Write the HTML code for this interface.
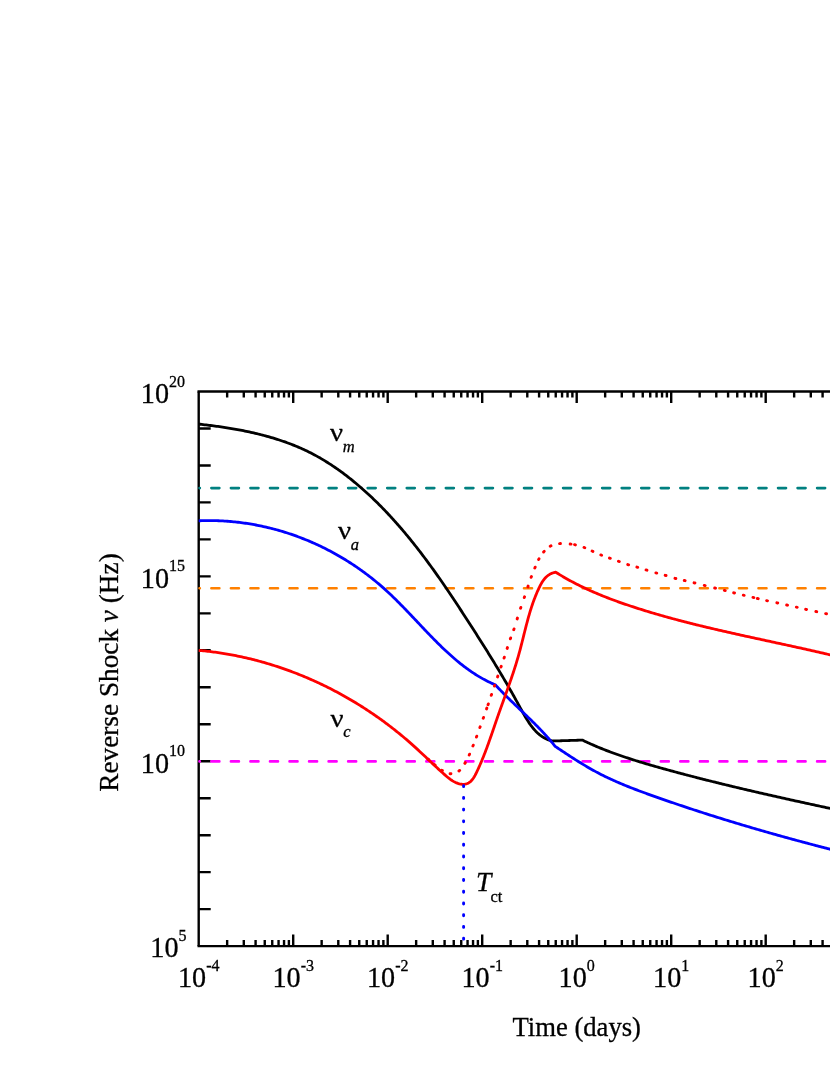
<!DOCTYPE html>
<html><head><meta charset="utf-8"><title>Reverse shock frequencies</title>
<style>html,body{margin:0;padding:0;background:#fff}svg{display:block;will-change:transform}</style>
</head><body>
<svg width="830" height="1075" viewBox="0 0 830 1075">
<rect width="830" height="1075" fill="#fff"/>
<g stroke="#000" stroke-width="2.40" fill="none" stroke-linecap="butt">
<path d="M197.50 391.50 H835.00"/>
<path d="M197.50 946.10 H835.00"/>
<path d="M198.70 391.50 V946.10"/>
<path d="M227.15 391.50v6.00M227.15 946.10v-6.00M243.79 391.50v6.00M243.79 946.10v-6.00M255.59 391.50v6.00M255.59 946.10v-6.00M264.75 391.50v6.00M264.75 946.10v-6.00M272.24 391.50v6.00M272.24 946.10v-6.00M278.56 391.50v6.00M278.56 946.10v-6.00M284.04 391.50v6.00M284.04 946.10v-6.00M288.88 391.50v6.00M288.88 946.10v-6.00M293.20 391.50v11.50M293.20 946.10v-11.50M321.65 391.50v6.00M321.65 946.10v-6.00M338.29 391.50v6.00M338.29 946.10v-6.00M350.09 391.50v6.00M350.09 946.10v-6.00M359.25 391.50v6.00M359.25 946.10v-6.00M366.74 391.50v6.00M366.74 946.10v-6.00M373.06 391.50v6.00M373.06 946.10v-6.00M378.54 391.50v6.00M378.54 946.10v-6.00M383.38 391.50v6.00M383.38 946.10v-6.00M387.70 391.50v11.50M387.70 946.10v-11.50M416.15 391.50v6.00M416.15 946.10v-6.00M432.79 391.50v6.00M432.79 946.10v-6.00M444.59 391.50v6.00M444.59 946.10v-6.00M453.75 391.50v6.00M453.75 946.10v-6.00M461.24 391.50v6.00M461.24 946.10v-6.00M467.56 391.50v6.00M467.56 946.10v-6.00M473.04 391.50v6.00M473.04 946.10v-6.00M477.88 391.50v6.00M477.88 946.10v-6.00M482.20 391.50v11.50M482.20 946.10v-11.50M510.65 391.50v6.00M510.65 946.10v-6.00M527.29 391.50v6.00M527.29 946.10v-6.00M539.09 391.50v6.00M539.09 946.10v-6.00M548.25 391.50v6.00M548.25 946.10v-6.00M555.74 391.50v6.00M555.74 946.10v-6.00M562.06 391.50v6.00M562.06 946.10v-6.00M567.54 391.50v6.00M567.54 946.10v-6.00M572.38 391.50v6.00M572.38 946.10v-6.00M576.70 391.50v11.50M576.70 946.10v-11.50M605.15 391.50v6.00M605.15 946.10v-6.00M621.79 391.50v6.00M621.79 946.10v-6.00M633.59 391.50v6.00M633.59 946.10v-6.00M642.75 391.50v6.00M642.75 946.10v-6.00M650.24 391.50v6.00M650.24 946.10v-6.00M656.56 391.50v6.00M656.56 946.10v-6.00M662.04 391.50v6.00M662.04 946.10v-6.00M666.88 391.50v6.00M666.88 946.10v-6.00M671.20 391.50v11.50M671.20 946.10v-11.50M699.65 391.50v6.00M699.65 946.10v-6.00M716.29 391.50v6.00M716.29 946.10v-6.00M728.09 391.50v6.00M728.09 946.10v-6.00M737.25 391.50v6.00M737.25 946.10v-6.00M744.74 391.50v6.00M744.74 946.10v-6.00M751.06 391.50v6.00M751.06 946.10v-6.00M756.54 391.50v6.00M756.54 946.10v-6.00M761.38 391.50v6.00M761.38 946.10v-6.00M765.70 391.50v11.50M765.70 946.10v-11.50M794.15 391.50v6.00M794.15 946.10v-6.00M810.79 391.50v6.00M810.79 946.10v-6.00M822.59 391.50v6.00M822.59 946.10v-6.00M831.75 391.50v6.00M831.75 946.10v-6.00"/>
<path d="M198.70 428.47h12.00M198.70 465.45h12.00M198.70 502.42h12.00M198.70 539.39h12.00M198.70 576.37h12.00M198.70 613.34h12.00M198.70 650.31h12.00M198.70 687.29h12.00M198.70 724.26h12.00M198.70 761.23h12.00M198.70 798.21h12.00M198.70 835.18h12.00M198.70 872.15h12.00M198.70 909.13h12.00"/>
</g>
<g fill="none" stroke-width="2.60" stroke-linecap="round" stroke-dasharray="8.00 11.54" stroke-dashoffset="7.67">
<path stroke="#008080" d="M199.50 488.10H835"/>
<path stroke="#ff8000" d="M199.50 588.30H835"/>
<path stroke="#ff00ff" d="M199.50 761.40H835"/>
</g>
<g fill="none" stroke-width="2.80" stroke-linejoin="round" stroke-linecap="butt">
<path stroke="#000000" d="M198.70 424.10 L200.18 424.26 L201.67 424.43 L203.15 424.60 L204.64 424.77 L206.13 424.94 L207.62 425.12 L209.11 425.31 L210.60 425.49 L212.09 425.68 L213.58 425.88 L215.07 426.08 L216.56 426.28 L218.06 426.48 L219.55 426.70 L221.04 426.91 L222.54 427.13 L224.03 427.36 L225.52 427.58 L227.02 427.82 L228.51 428.06 L230.00 428.30 L231.50 428.55 L232.99 428.80 L234.48 429.06 L235.97 429.33 L237.46 429.60 L238.95 429.87 L240.44 430.16 L241.93 430.44 L243.41 430.74 L244.90 431.03 L246.38 431.34 L247.87 431.65 L249.35 431.97 L250.83 432.29 L252.31 432.62 L253.78 432.96 L255.26 433.30 L256.73 433.65 L258.20 434.01 L259.67 434.37 L261.14 434.74 L262.60 435.12 L264.07 435.50 L265.53 435.89 L266.99 436.29 L268.44 436.70 L269.89 437.11 L271.35 437.54 L272.79 437.96 L274.24 438.40 L275.68 438.85 L277.12 439.30 L278.56 439.76 L279.99 440.23 L281.42 440.71 L282.85 441.20 L284.27 441.69 L285.69 442.19 L287.10 442.71 L288.52 443.23 L289.92 443.76 L291.33 444.30 L292.73 444.84 L294.13 445.40 L295.52 445.97 L296.91 446.54 L298.29 447.13 L299.67 447.72 L301.05 448.33 L302.42 448.94 L303.79 449.57 L305.15 450.20 L306.51 450.84 L307.86 451.50 L309.21 452.16 L310.55 452.84 L311.89 453.52 L313.22 454.22 L314.55 454.92 L315.87 455.64 L317.19 456.36 L318.50 457.10 L319.80 457.84 L321.11 458.59 L322.40 459.36 L323.70 460.13 L324.98 460.91 L326.26 461.70 L327.54 462.50 L328.81 463.31 L330.08 464.13 L331.34 464.95 L332.60 465.79 L333.85 466.63 L335.10 467.48 L336.34 468.33 L337.58 469.20 L338.81 470.07 L340.04 470.95 L341.26 471.84 L342.48 472.74 L343.69 473.64 L344.90 474.55 L346.11 475.46 L347.30 476.39 L348.50 477.31 L349.69 478.25 L350.87 479.19 L352.05 480.14 L353.22 481.09 L354.39 482.05 L355.56 483.02 L356.72 483.99 L357.87 484.97 L359.02 485.95 L360.17 486.94 L361.31 487.93 L362.45 488.93 L363.58 489.93 L364.70 490.93 L365.83 491.95 L366.94 492.96 L368.06 493.98 L369.16 495.01 L370.27 496.04 L371.37 497.07 L372.46 498.11 L373.55 499.15 L374.64 500.20 L375.72 501.25 L376.79 502.30 L377.87 503.36 L378.93 504.42 L380.00 505.49 L381.06 506.56 L382.11 507.64 L383.16 508.72 L384.21 509.80 L385.25 510.89 L386.29 511.98 L387.33 513.07 L388.36 514.17 L389.39 515.27 L390.41 516.37 L391.43 517.48 L392.44 518.60 L393.45 519.71 L394.46 520.83 L395.47 521.95 L396.47 523.08 L397.46 524.21 L398.46 525.34 L399.45 526.48 L400.43 527.62 L401.41 528.76 L402.39 529.90 L403.37 531.05 L404.34 532.20 L405.31 533.36 L406.27 534.52 L407.24 535.68 L408.19 536.84 L409.15 538.01 L410.10 539.18 L411.05 540.35 L412.00 541.52 L412.94 542.70 L413.88 543.88 L414.81 545.06 L415.75 546.25 L416.68 547.43 L417.61 548.62 L418.53 549.82 L419.45 551.01 L420.37 552.21 L421.29 553.41 L422.20 554.61 L423.11 555.81 L424.02 557.02 L424.92 558.23 L425.83 559.44 L426.73 560.65 L427.63 561.86 L428.52 563.08 L429.41 564.30 L430.30 565.52 L431.19 566.74 L432.08 567.97 L432.96 569.19 L433.84 570.42 L434.72 571.65 L435.59 572.88 L436.47 574.11 L437.34 575.35 L438.21 576.58 L439.08 577.82 L439.94 579.06 L440.80 580.30 L441.67 581.54 L442.53 582.78 L443.38 584.02 L444.24 585.27 L445.09 586.51 L445.94 587.76 L446.79 589.01 L447.64 590.26 L448.49 591.51 L449.33 592.76 L450.18 594.02 L451.02 595.27 L451.86 596.52 L452.70 597.78 L453.53 599.03 L454.37 600.29 L455.20 601.55 L456.04 602.81 L456.87 604.07 L457.70 605.32 L458.53 606.58 L459.35 607.85 L460.18 609.11 L461.00 610.37 L461.83 611.63 L462.65 612.89 L463.47 614.15 L464.29 615.42 L465.11 616.68 L465.93 617.94 L466.75 619.20 L467.56 620.47 L468.38 621.73 L469.19 622.99 L470.01 624.26 L470.82 625.52 L471.63 626.78 L472.45 628.05 L473.26 629.31 L474.07 630.57 L474.87 631.84 L475.68 633.10 L476.49 634.36 L477.30 635.63 L478.10 636.89 L478.91 638.16 L479.71 639.42 L480.51 640.69 L481.31 641.95 L482.12 643.22 L482.92 644.49 L483.71 645.76 L484.51 647.03 L485.31 648.30 L486.10 649.57 L486.90 650.84 L487.69 652.11 L488.48 653.39 L489.28 654.66 L490.07 655.94 L490.85 657.21 L491.64 658.49 L492.43 659.77 L493.21 661.05 L494.00 662.33 L494.78 663.62 L495.56 664.90 L496.34 666.19 L497.12 667.48 L497.90 668.76 L498.68 670.06 L499.45 671.35 L500.23 672.64 L501.00 673.94 L501.77 675.24 L502.54 676.54 L503.31 677.84 L504.08 679.14 L504.84 680.45 L505.61 681.76 L506.37 683.07 L507.13 684.38 L507.89 685.69 L508.65 687.01 L509.41 688.33 L510.16 689.65 L510.92 690.97 L511.67 692.30 L512.42 693.63 L513.17 694.96 L513.92 696.29 L514.67 697.63 L515.41 698.97 L516.15 700.31 L516.90 701.65 L517.64 703.00 L518.37 704.35 L519.11 705.70 L519.85 707.06 L520.58 708.41 L521.32 709.77 L522.06 711.12 L522.81 712.47 L523.56 713.81 L524.32 715.14 L525.09 716.46 L525.86 717.77 L526.65 719.07 L527.46 720.35 L528.27 721.61 L529.11 722.86 L529.96 724.08 L530.83 725.29 L531.72 726.47 L532.63 727.62 L533.56 728.75 L534.52 729.84 L535.50 730.91 L536.52 731.94 L537.56 732.94 L538.63 733.91 L539.73 734.83 L540.86 735.71 L542.03 736.55 L543.24 737.33 L544.50 738.06 L545.79 738.73 L547.13 739.33 L548.52 739.86 L549.96 740.32 L551.45 740.70 L553.00 741.00 L554.63 740.95 L556.27 740.90 L557.90 740.85 L559.53 740.80 L561.17 740.75 L562.80 740.70 L564.43 740.65 L566.07 740.60 L567.70 740.55 L569.33 740.50 L570.97 740.45 L572.60 740.40 L574.23 740.35 L575.87 740.30 L577.50 740.25 L579.13 740.20 L580.77 740.15 L582.40 740.10 L583.77 740.76 L585.14 741.41 L586.52 742.05 L587.90 742.68 L589.28 743.31 L590.66 743.93 L592.05 744.55 L593.44 745.15 L594.83 745.75 L596.23 746.35 L597.62 746.93 L599.02 747.52 L600.42 748.09 L601.83 748.66 L603.23 749.22 L604.64 749.78 L606.05 750.33 L607.47 750.87 L608.88 751.41 L610.30 751.94 L611.72 752.47 L613.14 753.00 L614.56 753.51 L615.98 754.03 L617.41 754.53 L618.84 755.04 L620.27 755.53 L621.70 756.03 L623.13 756.51 L624.57 757.00 L626.00 757.48 L627.44 757.95 L628.88 758.43 L630.32 758.89 L631.77 759.36 L633.21 759.82 L634.65 760.27 L636.10 760.73 L637.55 761.18 L639.00 761.62 L640.45 762.06 L641.90 762.50 L643.35 762.94 L644.80 763.37 L646.25 763.80 L647.71 764.23 L649.17 764.66 L650.62 765.08 L652.08 765.50 L653.54 765.92 L655.00 766.34 L656.45 766.75 L657.91 767.16 L659.38 767.57 L660.84 767.98 L662.30 768.39 L663.76 768.79 L665.22 769.20 L666.69 769.60 L668.15 770.00 L669.61 770.40 L671.08 770.80 L672.54 771.20 L674.00 771.60 L675.47 771.99 L676.94 772.39 L678.40 772.78 L679.87 773.17 L681.33 773.56 L682.80 773.95 L684.27 774.34 L685.73 774.73 L687.20 775.11 L688.67 775.50 L690.14 775.88 L691.61 776.26 L693.08 776.64 L694.54 777.02 L696.01 777.40 L697.48 777.78 L698.95 778.16 L700.42 778.53 L701.89 778.91 L703.37 779.28 L704.84 779.65 L706.31 780.02 L707.78 780.39 L709.25 780.76 L710.72 781.13 L712.20 781.50 L713.67 781.87 L715.14 782.23 L716.62 782.60 L718.09 782.96 L719.56 783.32 L721.04 783.68 L722.51 784.04 L723.99 784.40 L725.46 784.76 L726.94 785.12 L728.41 785.48 L729.89 785.83 L731.36 786.19 L732.84 786.54 L734.31 786.90 L735.79 787.25 L737.27 787.60 L738.74 787.95 L740.22 788.30 L741.70 788.65 L743.17 789.00 L744.65 789.35 L746.13 789.69 L747.61 790.04 L749.08 790.38 L750.56 790.73 L752.04 791.07 L753.52 791.42 L755.00 791.76 L756.48 792.10 L757.95 792.44 L759.43 792.78 L760.91 793.12 L762.39 793.46 L763.87 793.80 L765.35 794.14 L766.83 794.47 L768.31 794.81 L769.79 795.14 L771.27 795.48 L772.75 795.81 L774.23 796.15 L775.71 796.48 L777.19 796.81 L778.67 797.15 L780.15 797.48 L781.63 797.81 L783.11 798.14 L784.59 798.47 L786.07 798.80 L787.55 799.13 L789.04 799.45 L790.52 799.78 L792.00 800.11 L793.48 800.44 L794.96 800.76 L796.44 801.09 L797.92 801.41 L799.40 801.74 L800.89 802.06 L802.37 802.39 L803.85 802.71 L805.33 803.04 L806.81 803.36 L808.29 803.68 L809.78 804.00 L811.26 804.33 L812.74 804.65 L814.22 804.97 L815.70 805.29 L817.18 805.61 L818.67 805.93 L820.15 806.25 L821.63 806.57 L823.11 806.89 L824.59 807.21 L826.07 807.53 L827.56 807.85 L829.04 808.16 L830.52 808.48 L832.00 808.80"/>
<path stroke="#0000ff" d="M198.70 520.80 L200.22 520.74 L201.74 520.69 L203.26 520.65 L204.78 520.61 L206.30 520.59 L207.82 520.58 L209.34 520.57 L210.86 520.58 L212.38 520.59 L213.89 520.62 L215.41 520.65 L216.93 520.69 L218.44 520.74 L219.95 520.80 L221.47 520.87 L222.98 520.95 L224.49 521.04 L226.00 521.14 L227.51 521.25 L229.02 521.36 L230.53 521.49 L232.03 521.62 L233.54 521.77 L235.04 521.92 L236.54 522.08 L238.05 522.25 L239.55 522.43 L241.04 522.62 L242.54 522.82 L244.04 523.03 L245.53 523.24 L247.02 523.47 L248.52 523.70 L250.00 523.94 L251.49 524.19 L252.98 524.45 L254.46 524.72 L255.95 525.00 L257.43 525.28 L258.91 525.58 L260.38 525.88 L261.86 526.19 L263.33 526.51 L264.80 526.84 L266.27 527.18 L267.74 527.52 L269.21 527.88 L270.67 528.24 L272.13 528.61 L273.59 528.99 L275.05 529.38 L276.50 529.77 L277.95 530.18 L279.40 530.59 L280.85 531.01 L282.29 531.44 L283.73 531.88 L285.17 532.33 L286.61 532.78 L288.05 533.25 L289.48 533.72 L290.91 534.20 L292.33 534.68 L293.76 535.18 L295.18 535.68 L296.59 536.19 L298.01 536.71 L299.42 537.24 L300.83 537.78 L302.24 538.32 L303.64 538.87 L305.04 539.43 L306.44 540.00 L307.83 540.58 L309.22 541.16 L310.61 541.75 L311.99 542.35 L313.37 542.96 L314.75 543.57 L316.12 544.19 L317.49 544.82 L318.86 545.46 L320.22 546.10 L321.58 546.76 L322.94 547.42 L324.29 548.09 L325.64 548.76 L326.98 549.45 L328.32 550.14 L329.66 550.84 L330.99 551.54 L332.32 552.25 L333.65 552.98 L334.97 553.70 L336.29 554.44 L337.60 555.18 L338.91 555.93 L340.22 556.69 L341.52 557.45 L342.82 558.23 L344.11 559.01 L345.40 559.79 L346.68 560.59 L347.96 561.39 L349.24 562.20 L350.51 563.01 L351.78 563.83 L353.04 564.66 L354.30 565.50 L355.55 566.35 L356.80 567.20 L358.04 568.05 L359.28 568.92 L360.52 569.79 L361.75 570.67 L362.97 571.55 L364.19 572.45 L365.40 573.35 L366.61 574.25 L367.82 575.17 L369.02 576.09 L370.21 577.01 L371.40 577.95 L372.59 578.89 L373.77 579.83 L374.94 580.79 L376.11 581.75 L377.28 582.71 L378.43 583.69 L379.59 584.67 L380.74 585.65 L381.88 586.65 L383.01 587.65 L384.15 588.65 L385.27 589.66 L386.39 590.68 L387.51 591.71 L388.62 592.74 L389.72 593.77 L390.82 594.81 L391.92 595.86 L393.01 596.91 L394.10 597.97 L395.19 599.03 L396.27 600.09 L397.34 601.16 L398.42 602.23 L399.49 603.31 L400.56 604.39 L401.62 605.47 L402.68 606.55 L403.74 607.64 L404.80 608.73 L405.85 609.83 L406.91 610.92 L407.96 612.02 L409.01 613.12 L410.05 614.22 L411.10 615.32 L412.14 616.42 L413.19 617.53 L414.23 618.63 L415.27 619.74 L416.32 620.84 L417.36 621.95 L418.40 623.05 L419.44 624.16 L420.48 625.26 L421.52 626.36 L422.57 627.47 L423.61 628.57 L424.65 629.67 L425.70 630.76 L426.74 631.86 L427.79 632.95 L428.84 634.05 L429.89 635.14 L430.94 636.22 L432.00 637.31 L433.05 638.39 L434.11 639.46 L435.17 640.54 L436.24 641.61 L437.31 642.67 L438.38 643.74 L439.45 644.79 L440.53 645.85 L441.61 646.90 L442.69 647.94 L443.78 648.98 L444.87 650.01 L445.97 651.04 L447.07 652.06 L448.17 653.07 L449.28 654.08 L450.40 655.08 L451.52 656.08 L452.64 657.07 L453.77 658.05 L454.91 659.03 L456.05 659.99 L457.20 660.95 L458.35 661.90 L459.51 662.85 L460.68 663.78 L461.85 664.71 L463.04 665.63 L464.22 666.54 L465.42 667.43 L466.62 668.32 L467.83 669.21 L469.04 670.08 L470.27 670.94 L471.50 671.79 L472.74 672.62 L473.99 673.45 L475.25 674.27 L476.51 675.07 L477.79 675.86 L479.08 676.63 L480.37 677.40 L481.68 678.15 L482.99 678.88 L484.31 679.60 L485.65 680.31 L486.99 681.00 L488.35 681.68 L489.72 682.33 L491.10 682.98 L492.49 683.60 L493.89 684.21 L495.30 684.80 L496.34 685.93 L497.39 687.05 L498.45 688.16 L499.50 689.27 L500.57 690.37 L501.64 691.47 L502.71 692.57 L503.79 693.66 L504.87 694.75 L505.95 695.83 L507.04 696.91 L508.13 697.99 L509.23 699.06 L510.32 700.13 L511.42 701.20 L512.52 702.27 L513.62 703.33 L514.73 704.39 L515.83 705.46 L516.94 706.52 L518.04 707.58 L519.15 708.64 L520.26 709.70 L521.36 710.76 L522.47 711.82 L523.58 712.88 L524.68 713.94 L525.78 715.00 L526.88 716.06 L527.98 717.13 L529.08 718.20 L530.18 719.27 L531.27 720.34 L532.36 721.41 L533.45 722.49 L534.53 723.57 L535.61 724.66 L536.69 725.75 L537.76 726.84 L538.83 727.94 L539.89 729.04 L540.95 730.15 L542.01 731.26 L543.05 732.37 L544.09 733.50 L545.13 734.63 L546.16 735.76 L547.18 736.90 L548.20 738.05 L549.21 739.21 L550.21 740.37 L551.20 741.54 L552.19 742.72 L553.17 743.90 L554.14 745.10 L555.10 746.30 L556.35 747.14 L557.61 747.99 L558.86 748.83 L560.12 749.67 L561.38 750.51 L562.64 751.35 L563.90 752.18 L565.16 753.02 L566.42 753.85 L567.69 754.68 L568.95 755.51 L570.22 756.34 L571.49 757.16 L572.76 757.98 L574.04 758.79 L575.31 759.60 L576.59 760.41 L577.87 761.21 L579.15 762.01 L580.44 762.80 L581.73 763.59 L583.02 764.37 L584.31 765.15 L585.61 765.92 L586.91 766.69 L588.21 767.45 L589.52 768.20 L590.83 768.95 L592.14 769.69 L593.46 770.42 L594.78 771.14 L596.10 771.86 L597.43 772.56 L598.76 773.26 L600.10 773.96 L601.44 774.64 L602.78 775.32 L604.13 775.98 L605.48 776.65 L606.83 777.30 L608.19 777.94 L609.55 778.58 L610.91 779.22 L612.28 779.84 L613.65 780.46 L615.03 781.07 L616.40 781.68 L617.78 782.28 L619.16 782.88 L620.55 783.47 L621.93 784.05 L623.32 784.63 L624.71 785.20 L626.11 785.77 L627.50 786.33 L628.90 786.89 L630.30 787.45 L631.71 788.00 L633.11 788.54 L634.52 789.09 L635.92 789.63 L637.33 790.16 L638.74 790.69 L640.16 791.22 L641.57 791.74 L642.98 792.27 L644.40 792.79 L645.82 793.30 L647.24 793.82 L648.66 794.33 L650.08 794.84 L651.50 795.35 L652.92 795.85 L654.34 796.36 L655.76 796.86 L657.19 797.36 L658.61 797.86 L660.03 798.36 L661.46 798.86 L662.88 799.36 L664.31 799.85 L665.73 800.35 L667.16 800.84 L668.59 801.33 L670.01 801.82 L671.44 802.31 L672.87 802.80 L674.30 803.28 L675.72 803.77 L677.15 804.25 L678.58 804.74 L680.01 805.22 L681.44 805.70 L682.87 806.18 L684.31 806.65 L685.74 807.13 L687.17 807.61 L688.60 808.08 L690.03 808.55 L691.47 809.02 L692.90 809.50 L694.33 809.96 L695.77 810.43 L697.20 810.90 L698.64 811.37 L700.07 811.83 L701.51 812.29 L702.95 812.76 L704.38 813.22 L705.82 813.68 L707.26 814.14 L708.69 814.59 L710.13 815.05 L711.57 815.51 L713.01 815.96 L714.45 816.41 L715.89 816.86 L717.33 817.32 L718.77 817.76 L720.21 818.21 L721.65 818.66 L723.09 819.11 L724.53 819.55 L725.97 820.00 L727.42 820.44 L728.86 820.88 L730.30 821.32 L731.74 821.76 L733.19 822.20 L734.63 822.64 L736.08 823.07 L737.52 823.51 L738.97 823.94 L740.41 824.38 L741.86 824.81 L743.30 825.24 L744.75 825.67 L746.20 826.10 L747.64 826.53 L749.09 826.95 L750.54 827.38 L751.98 827.80 L753.43 828.23 L754.88 828.65 L756.33 829.07 L757.78 829.49 L759.23 829.91 L760.68 830.33 L762.13 830.75 L763.58 831.17 L765.03 831.58 L766.48 832.00 L767.93 832.41 L769.38 832.82 L770.83 833.24 L772.28 833.65 L773.73 834.06 L775.19 834.47 L776.64 834.87 L778.09 835.28 L779.54 835.69 L781.00 836.09 L782.45 836.50 L783.90 836.90 L785.36 837.30 L786.81 837.70 L788.27 838.10 L789.72 838.50 L791.18 838.90 L792.63 839.30 L794.09 839.69 L795.54 840.09 L797.00 840.49 L798.45 840.88 L799.91 841.27 L801.37 841.66 L802.82 842.06 L804.28 842.45 L805.74 842.84 L807.19 843.22 L808.65 843.61 L810.11 844.00 L811.57 844.38 L813.03 844.77 L814.48 845.15 L815.94 845.54 L817.40 845.92 L818.86 846.30 L820.32 846.68 L821.78 847.06 L823.24 847.44 L824.70 847.82 L826.16 848.20 L827.62 848.57 L829.08 848.95 L830.54 849.33 L832.00 849.70"/>
<path stroke="#ff0000" d="M198.70 650.40 L200.21 650.53 L201.71 650.67 L203.21 650.82 L204.72 650.97 L206.22 651.13 L207.72 651.29 L209.22 651.47 L210.72 651.65 L212.21 651.83 L213.71 652.03 L215.21 652.23 L216.70 652.43 L218.20 652.65 L219.69 652.87 L221.18 653.09 L222.67 653.32 L224.16 653.56 L225.65 653.81 L227.14 654.06 L228.62 654.32 L230.11 654.59 L231.59 654.86 L233.07 655.14 L234.55 655.42 L236.03 655.72 L237.51 656.01 L238.99 656.32 L240.47 656.63 L241.94 656.95 L243.41 657.27 L244.88 657.60 L246.35 657.94 L247.82 658.28 L249.29 658.63 L250.76 658.98 L252.22 659.35 L253.68 659.71 L255.14 660.09 L256.60 660.47 L258.06 660.85 L259.52 661.25 L260.97 661.65 L262.42 662.05 L263.87 662.46 L265.32 662.88 L266.77 663.30 L268.22 663.73 L269.66 664.17 L271.10 664.61 L272.54 665.05 L273.98 665.51 L275.42 665.97 L276.85 666.43 L278.28 666.90 L279.72 667.38 L281.14 667.87 L282.57 668.35 L284.00 668.85 L285.42 669.35 L286.84 669.86 L288.26 670.37 L289.68 670.89 L291.09 671.41 L292.50 671.94 L293.91 672.48 L295.32 673.02 L296.73 673.57 L298.13 674.12 L299.53 674.68 L300.93 675.24 L302.33 675.81 L303.72 676.39 L305.12 676.97 L306.51 677.56 L307.89 678.15 L309.28 678.75 L310.66 679.35 L312.04 679.96 L313.42 680.57 L314.80 681.19 L316.17 681.82 L317.54 682.45 L318.91 683.09 L320.27 683.73 L321.64 684.37 L323.00 685.03 L324.36 685.69 L325.71 686.35 L327.06 687.02 L328.41 687.69 L329.76 688.37 L331.10 689.06 L332.45 689.75 L333.79 690.44 L335.12 691.14 L336.46 691.85 L337.79 692.56 L339.11 693.28 L340.44 694.00 L341.76 694.72 L343.08 695.46 L344.40 696.19 L345.71 696.93 L347.02 697.68 L348.33 698.43 L349.63 699.19 L350.93 699.95 L352.23 700.72 L353.53 701.49 L354.82 702.27 L356.11 703.05 L357.39 703.84 L358.68 704.63 L359.95 705.43 L361.23 706.23 L362.50 707.04 L363.77 707.85 L365.04 708.66 L366.30 709.49 L367.56 710.31 L368.82 711.14 L370.07 711.98 L371.32 712.82 L372.57 713.66 L373.81 714.51 L375.05 715.37 L376.29 716.23 L377.52 717.09 L378.75 717.96 L379.98 718.83 L381.20 719.71 L382.42 720.60 L383.63 721.48 L384.84 722.37 L386.05 723.27 L387.26 724.17 L388.46 725.08 L389.65 725.99 L390.85 726.90 L392.04 727.82 L393.22 728.74 L394.40 729.67 L395.58 730.60 L396.76 731.54 L397.93 732.48 L399.09 733.43 L400.26 734.38 L401.42 735.33 L402.57 736.29 L403.72 737.25 L404.87 738.22 L406.01 739.19 L407.15 740.16 L408.29 741.14 L409.42 742.13 L410.55 743.11 L411.67 744.11 L412.79 745.10 L413.90 746.10 L415.01 747.11 L416.12 748.12 L417.22 749.13 L418.32 750.15 L419.42 751.17 L420.51 752.19 L421.61 753.22 L422.70 754.24 L423.79 755.28 L424.89 756.31 L425.98 757.35 L427.07 758.39 L428.17 759.43 L429.27 760.47 L430.37 761.52 L431.47 762.56 L432.58 763.61 L433.69 764.66 L434.81 765.71 L435.94 766.76 L437.07 767.81 L438.20 768.86 L439.35 769.91 L440.50 770.96 L441.66 772.01 L442.82 773.06 L444.00 774.11 L445.19 775.15 L446.39 776.19 L447.60 777.20 L448.82 778.19 L450.06 779.13 L451.32 780.03 L452.59 780.86 L453.89 781.63 L455.20 782.32 L456.54 782.92 L457.90 783.42 L459.29 783.82 L460.69 784.09 L462.10 784.25 L463.50 784.28 L464.87 784.16 L466.19 783.90 L467.45 783.49 L468.64 782.92 L469.75 782.20 L470.78 781.33 L471.74 780.33 L472.64 779.22 L473.48 778.02 L474.28 776.74 L475.04 775.40 L475.76 774.01 L476.46 772.60 L477.14 771.17 L477.80 769.74 L478.46 768.31 L479.10 766.88 L479.73 765.46 L480.36 764.03 L480.97 762.61 L481.57 761.18 L482.16 759.76 L482.74 758.34 L483.32 756.92 L483.88 755.50 L484.44 754.08 L484.99 752.66 L485.54 751.24 L486.07 749.82 L486.60 748.41 L487.13 746.99 L487.65 745.57 L488.16 744.16 L488.67 742.74 L489.18 741.33 L489.68 739.91 L490.17 738.50 L490.67 737.08 L491.16 735.67 L491.65 734.26 L492.14 732.84 L492.62 731.43 L493.11 730.02 L493.59 728.60 L494.07 727.19 L494.56 725.78 L495.04 724.36 L495.52 722.95 L496.01 721.54 L496.50 720.12 L496.99 718.71 L497.48 717.30 L497.97 715.88 L498.47 714.47 L498.97 713.05 L499.47 711.64 L499.97 710.22 L500.48 708.81 L500.99 707.39 L501.50 705.97 L502.01 704.56 L502.52 703.14 L503.03 701.72 L503.54 700.30 L504.05 698.88 L504.56 697.46 L505.08 696.04 L505.59 694.62 L506.10 693.20 L506.61 691.78 L507.12 690.35 L507.62 688.93 L508.13 687.50 L508.63 686.08 L509.14 684.65 L509.64 683.22 L510.13 681.79 L510.63 680.36 L511.12 678.93 L511.61 677.50 L512.10 676.07 L512.58 674.63 L513.06 673.19 L513.53 671.76 L514.00 670.32 L514.47 668.88 L514.93 667.44 L515.38 666.00 L515.83 664.55 L516.28 663.11 L516.72 661.66 L517.15 660.21 L517.58 658.76 L518.00 657.31 L518.42 655.86 L518.83 654.41 L519.23 652.95 L519.62 651.49 L520.02 650.04 L520.40 648.58 L520.78 647.12 L521.16 645.65 L521.53 644.19 L521.91 642.73 L522.27 641.27 L522.64 639.80 L523.01 638.34 L523.37 636.88 L523.74 635.41 L524.10 633.95 L524.47 632.49 L524.83 631.03 L525.20 629.57 L525.57 628.11 L525.95 626.65 L526.32 625.19 L526.70 623.73 L527.09 622.28 L527.48 620.83 L527.87 619.37 L528.27 617.92 L528.68 616.48 L529.09 615.03 L529.51 613.59 L529.94 612.15 L530.38 610.71 L530.83 609.27 L531.28 607.84 L531.75 606.41 L532.22 604.99 L532.71 603.56 L533.21 602.14 L533.72 600.73 L534.24 599.32 L534.78 597.91 L535.33 596.51 L535.89 595.11 L536.47 593.71 L537.06 592.32 L537.67 590.93 L538.30 589.55 L538.94 588.17 L539.60 586.80 L540.28 585.45 L541.00 584.11 L541.75 582.81 L542.54 581.54 L543.37 580.31 L544.27 579.14 L545.22 578.02 L546.23 576.98 L547.32 576.01 L548.49 575.12 L549.74 574.32 L551.08 573.63 L552.52 573.03 L554.05 572.56 L555.70 572.20 L556.99 573.01 L558.28 573.81 L559.57 574.61 L560.87 575.39 L562.18 576.17 L563.49 576.94 L564.80 577.70 L566.11 578.45 L567.43 579.19 L568.75 579.93 L570.08 580.65 L571.41 581.37 L572.74 582.08 L574.07 582.79 L575.41 583.48 L576.76 584.17 L578.10 584.85 L579.45 585.52 L580.80 586.19 L582.16 586.85 L583.52 587.50 L584.88 588.14 L586.24 588.78 L587.61 589.41 L588.98 590.04 L590.35 590.66 L591.72 591.27 L593.10 591.87 L594.48 592.47 L595.87 593.07 L597.25 593.65 L598.64 594.24 L600.03 594.81 L601.42 595.38 L602.82 595.95 L604.22 596.50 L605.62 597.06 L607.02 597.61 L608.42 598.15 L609.83 598.69 L611.23 599.22 L612.64 599.75 L614.06 600.27 L615.47 600.79 L616.88 601.31 L618.30 601.82 L619.72 602.32 L621.14 602.82 L622.56 603.32 L623.99 603.82 L625.41 604.30 L626.84 604.79 L628.27 605.27 L629.69 605.75 L631.12 606.23 L632.56 606.70 L633.99 607.17 L635.42 607.63 L636.86 608.09 L638.29 608.55 L639.73 609.01 L641.17 609.46 L642.61 609.91 L644.05 610.36 L645.49 610.80 L646.93 611.24 L648.37 611.68 L649.82 612.12 L651.26 612.55 L652.71 612.98 L654.15 613.41 L655.60 613.83 L657.05 614.25 L658.50 614.67 L659.95 615.09 L661.40 615.50 L662.85 615.91 L664.31 616.32 L665.76 616.73 L667.21 617.13 L668.67 617.54 L670.12 617.94 L671.58 618.33 L673.04 618.73 L674.50 619.12 L675.96 619.51 L677.41 619.90 L678.88 620.29 L680.34 620.67 L681.80 621.05 L683.26 621.43 L684.72 621.81 L686.19 622.19 L687.65 622.56 L689.12 622.93 L690.58 623.31 L692.05 623.67 L693.51 624.04 L694.98 624.41 L696.45 624.77 L697.92 625.13 L699.38 625.49 L700.85 625.85 L702.32 626.21 L703.79 626.56 L705.26 626.92 L706.73 627.27 L708.21 627.62 L709.68 627.97 L711.15 628.32 L712.62 628.66 L714.09 629.01 L715.57 629.35 L717.04 629.69 L718.52 630.04 L719.99 630.38 L721.46 630.72 L722.94 631.05 L724.41 631.39 L725.89 631.73 L727.37 632.06 L728.84 632.40 L730.32 632.73 L731.79 633.06 L733.27 633.39 L734.75 633.72 L736.23 634.05 L737.70 634.38 L739.18 634.71 L740.66 635.03 L742.13 635.36 L743.61 635.69 L745.09 636.01 L746.57 636.34 L748.05 636.66 L749.52 636.98 L751.00 637.31 L752.48 637.63 L753.96 637.95 L755.44 638.27 L756.92 638.59 L758.39 638.92 L759.87 639.24 L761.35 639.56 L762.83 639.88 L764.31 640.20 L765.78 640.52 L767.26 640.84 L768.74 641.16 L770.22 641.48 L771.70 641.80 L773.17 642.12 L774.65 642.44 L776.13 642.76 L777.60 643.08 L779.08 643.40 L780.56 643.72 L782.03 644.04 L783.51 644.36 L784.98 644.68 L786.46 645.00 L787.94 645.32 L789.41 645.64 L790.89 645.97 L792.36 646.29 L793.83 646.61 L795.31 646.94 L796.78 647.26 L798.25 647.58 L799.73 647.91 L801.20 648.24 L802.67 648.56 L804.14 648.89 L805.61 649.22 L807.08 649.55 L808.55 649.88 L810.02 650.21 L811.49 650.54 L812.96 650.88 L814.43 651.21 L815.90 651.54 L817.36 651.88 L818.83 652.22 L820.29 652.55 L821.76 652.89 L823.22 653.23 L824.69 653.57 L826.15 653.92 L827.62 654.26 L829.08 654.61 L830.54 654.95 L832.00 655.30"/>
</g>
<g fill="none" stroke="#ff0000" stroke-width="2.9" stroke-linecap="round">
<path d="M428.16 759.11L428.84 759.69M434.45 764.52L435.15 765.08M441.61 770.18L442.39 770.62M450.05 773.79L450.95 773.81M458.94 770.97L459.66 770.43M464.86 763.38L465.34 762.62M469.21 755.01L469.59 754.19M472.93 746.02L473.27 745.18M476.44 737.02L476.76 736.18M479.85 727.62L480.15 726.78M483.25 718.22L483.55 717.38M486.55 708.92L486.85 708.08M488.05 704.73L488.35 703.87M491.25 695.33L491.55 694.47M494.45 686.13L494.75 685.27M497.55 676.93L497.85 676.07M500.95 667.13L501.25 666.27M504.06 658.03L504.34 657.17M507.16 648.43L507.44 647.57M510.35 638.82L510.65 637.98M513.75 629.73L514.05 628.87M517.16 618.93L517.44 618.07M520.56 608.23L520.84 607.37M524.25 597.63L524.55 596.77M527.86 586.93L528.14 586.07M531.14 577.32L531.46 576.48M534.82 568.01L535.18 567.19M538.58 559.59L539.02 558.81M543.60 552.04L544.20 551.36M550.20 546.20L551.00 545.80M559.55 543.64L560.45 543.56M570.15 544.06L571.05 544.14M574.56 544.69L575.44 544.91M583.98 547.45L584.82 547.75M592.09 551.02L592.91 551.38M600.78 554.93L601.62 555.27M609.48 558.05L610.32 558.35M618.48 561.25L619.32 561.55M627.77 564.56L628.63 564.84M636.87 567.07L637.73 567.33M646.07 569.97L646.93 570.23M655.87 572.88L656.73 573.12M665.17 575.28L666.03 575.52M674.97 578.28L675.83 578.52M684.26 580.50L685.14 580.70M694.06 582.79L694.94 583.01M704.26 585.39L705.14 585.61M714.66 587.99L715.54 588.21M724.36 590.39L725.24 590.61M733.66 592.79L734.54 593.01M743.26 595.20L744.14 595.40M752.96 597.40L753.84 597.60M757.36 598.50L758.24 598.70M766.66 600.60L767.54 600.80M776.86 602.80L777.74 603.00M786.66 605.00L787.54 605.20M796.36 607.10L797.24 607.30M805.66 609.30L806.54 609.50M815.86 611.51L816.74 611.69M825.66 613.61L826.54 613.79"/>
</g>
<path fill="none" stroke="#0000ff" stroke-width="2.9" stroke-linecap="round" stroke-dasharray="1.0 10.73" d="M463.6 785.65V945.10"/>
<g font-family="'Liberation Serif', serif" fill="#000" stroke="#000" stroke-width="0.3" font-size="27.50">
<text transform="translate(178.02 987.20) scale(0.955 1.020)" font-size="29.50">10<tspan dy="-16.0" dx="0.0" font-size="16.80">-4</tspan></text>
<text transform="translate(272.52 987.20) scale(0.955 1.020)" font-size="29.50">10<tspan dy="-16.0" dx="0.0" font-size="16.80">-3</tspan></text>
<text transform="translate(367.02 987.20) scale(0.955 1.020)" font-size="29.50">10<tspan dy="-16.0" dx="0.0" font-size="16.80">-2</tspan></text>
<text transform="translate(461.52 987.20) scale(0.955 1.020)" font-size="29.50">10<tspan dy="-16.0" dx="0.0" font-size="16.80">-1</tspan></text>
<text transform="translate(558.62 987.20) scale(0.955 1.020)" font-size="29.50">10<tspan dy="-16.0" dx="0.0" font-size="16.80">0</tspan></text>
<text transform="translate(653.12 987.20) scale(0.955 1.020)" font-size="29.50">10<tspan dy="-16.0" dx="0.0" font-size="16.80">1</tspan></text>
<text transform="translate(747.62 987.20) scale(0.955 1.020)" font-size="29.50">10<tspan dy="-16.0" dx="0.0" font-size="16.80">2</tspan></text>
<text transform="translate(140.82 402.85) scale(0.955 1.020)" font-size="29.50">10<tspan dy="-16.0" dx="0.0" font-size="16.80">20</tspan></text>
<text transform="translate(140.82 587.72) scale(0.955 1.020)" font-size="29.50">10<tspan dy="-16.0" dx="0.0" font-size="16.80">15</tspan></text>
<text transform="translate(140.82 772.58) scale(0.955 1.020)" font-size="29.50">10<tspan dy="-16.0" dx="0.0" font-size="16.80">10</tspan></text>
<text transform="translate(150.32 957.45) scale(0.955 1.020)" font-size="29.50">10<tspan dy="-16.0" dx="0.0" font-size="16.80">5</tspan></text>
<text transform="translate(576.7 1035.6) scale(0.969 1)" text-anchor="middle">Time (days)</text>
<text transform="translate(117.6 672.5) rotate(-90) scale(0.992 1)" text-anchor="middle">Reverse Shock <tspan font-style="italic">ν</tspan> (Hz)</text>
<text transform="translate(330.00 441.40) scale(1.050 0.950)">ν</text><text x="342.66" y="451.70" font-size="16.50" font-style="italic">m</text>
<text transform="translate(338.00 539.40) scale(1.050 0.950)">ν</text><text x="350.66" y="549.70" font-size="16.50" font-style="italic">a</text>
<text transform="translate(330.60 726.50) scale(1.050 0.950)">ν</text><text x="343.26" y="736.80" font-size="16.50" font-style="italic">c</text>
<text transform="translate(476.00 890.80) scale(1.000 1.000)" font-style="italic">T</text><text x="490.49" y="901.80" font-size="16.50">ct</text>
</g>
</svg>
</body></html>
